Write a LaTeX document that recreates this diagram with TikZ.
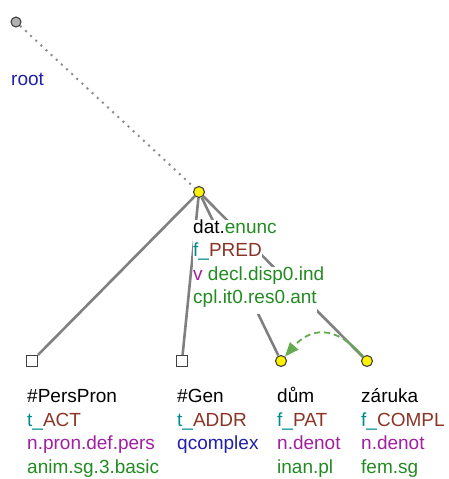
\documentclass[tikz,border=0pt]{standalone}
\usepackage{fontspec}
\setmainfont{Liberation Sans}
\usetikzlibrary{arrows.meta, positioning, shapes.geometric}
\definecolor{tGreen}{RGB}{34,139,34}
\definecolor{tTeal}{RGB}{0,139,139}
\definecolor{tBrown}{RGB}{139,51,38}
\definecolor{tPurple}{RGB}{160,32,160}
\definecolor{tBlue}{RGB}{32,32,170}
\definecolor{corefGreen}{RGB}{100,170,80}
\definecolor{edgeGray}{RGB}{128,128,128}

\tikzset{
  tnode/.style={circle, draw=black!75, line width=1.1pt, fill=yellow, minimum size=11pt, inner sep=0pt},
  rootnode/.style={circle, draw=black!75, line width=1.1pt, fill=black!30, minimum size=10pt, inner sep=0pt},
  gennode/.style={rectangle, draw=black!75, line width=1.1pt, fill=white, minimum size=11pt, inner sep=0pt},
  edge/.style={draw=edgeGray, line width=2.6pt},
  rootedge/.style={draw=black!45, line width=2pt, dash pattern=on 2pt off 5pt},
  coref/.style={draw=corefGreen, line width=1.8pt,
    dash pattern=on 27pt off 4pt on 6pt off 4pt on 6pt off 4pt on 6pt off 4pt on 6pt off 4pt on 6pt off 4pt on 6pt off 4pt on 6pt off 4pt,
    -{Triangle[length=14pt, width=11pt]}},
  lbl/.style={anchor=base west, inner sep=0pt, fill=white, text height=13.5pt, text depth=10pt,
    font=\fontsize{19}{23.5}\selectfont}
}

\begin{document}
\begin{tikzpicture}[x=1pt, y=-1pt]
        \useasboundingbox (0,0) rectangle (448,479);

        % Các nút của cây
        \node[rootnode] (root) at (16, 22) {};
        \node[tnode] (dat) at (199, 192) {};
        \node[gennode] (pers) at (32, 361) {};
        \node[gennode] (gen) at (182, 361) {};
        \node[tnode] (dum) at (281, 361) {};
        \node[tnode] (zaruka) at (367, 361) {};

        % Hrany
        \draw[rootedge] (root) -- (dat);
        \draw[edge] (dat) -- (pers);
        \draw[edge] (dat) -- (gen);
        \draw[edge] (dat) -- (dum);
        \draw[edge] (dat) -- (zaruka);

        % Koreference
        \draw[coref] (zaruka) .. controls (335, 324) and (310, 328) .. (dum);

        % Popisky
        \node[lbl] (rootA) at (11, 85) {\textcolor{tBlue}{root}};

        \node[lbl] (datA) at (193, 233) {dat.\textcolor{tGreen}{enunc}};
        \node[lbl] (datB) at (193, 256.5) {\textcolor{tTeal}{f\_}\textcolor{tBrown}{PRED}};
        \node[lbl] (datC) at (193, 280) {\textcolor{tPurple}{v} \textcolor{tGreen}{decl.disp0.ind}};
        \node[lbl] (datD) at (193, 303.5) {\textcolor{tGreen}{cpl.it0.res0.ant}};

        \node[lbl] (persA) at (27, 402.5) {\#PersPron};
        \node[lbl] (persB) at (27, 426) {\textcolor{tTeal}{t\_}\textcolor{tBrown}{ACT}};
        \node[lbl] (persC) at (27, 449.5) {\textcolor{tPurple}{n.pron.def.pers}};
        \node[lbl] (persD) at (27, 473) {\textcolor{tGreen}{anim.sg.3.basic}};

        \node[lbl] (genA) at (177, 402.5) {\#Gen};
        \node[lbl] (genB) at (177, 426) {\textcolor{tTeal}{t\_}\textcolor{tBrown}{ADDR}};
        \node[lbl] (genC) at (177, 449.5) {\textcolor{tBlue}{qcomplex}};

        \node[lbl] (dumA) at (277, 402.5) {dům};
        \node[lbl] (dumB) at (277, 426) {\textcolor{tTeal}{f\_}\textcolor{tBrown}{PAT}};
        \node[lbl] (dumC) at (277, 449.5) {\textcolor{tPurple}{n.denot}};
        \node[lbl] (dumD) at (277, 473) {\textcolor{tGreen}{inan.pl}};

        \node[lbl] (zarA) at (361, 402.5) {záruka};
        \node[lbl] (zarB) at (361, 426) {\textcolor{tTeal}{f\_}\textcolor{tBrown}{COMPL}};
        \node[lbl] (zarC) at (361, 449.5) {\textcolor{tPurple}{n.denot}};
        \node[lbl] (zarD) at (361, 473) {\textcolor{tGreen}{fem.sg}};
    \end{tikzpicture}
\end{document}
